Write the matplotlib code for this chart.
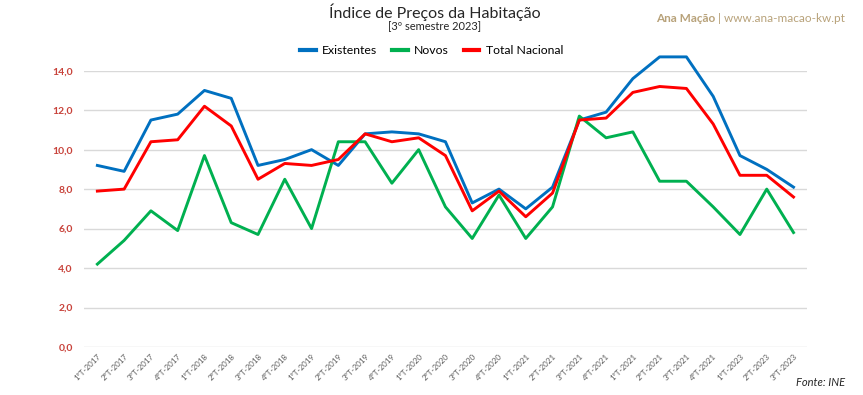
import numpy as np
import matplotlib
matplotlib.use("Agg")
import matplotlib.pyplot as plt

# quarters as labelled in the source chart (the 2022 labels read "2021" there)
quarters = ["1ºT-2017", "2ºT-2017", "3ºT-2017", "4ºT-2017",
            "1ºT-2018", "2ºT-2018", "3ºT-2018", "4ºT-2018",
            "1ºT-2019", "2ºT-2019", "3ºT-2019", "4ºT-2019",
            "1ºT-2020", "2ºT-2020", "3ºT-2020", "4ºT-2020",
            "1ºT-2021", "2ºT-2021", "3ºT-2021", "4ºT-2021",
            "1ºT-2021", "2ºT-2021", "3ºT-2021", "4ºT-2021",
            "1ºT-2023", "2ºT-2023", "3ºT-2023"]

existentes = [9.2, 8.9, 11.5, 11.8, 13.0, 12.6, 9.2, 9.5, 10.0, 9.2, 10.8, 10.9, 10.8, 10.4,
              7.3, 8.0, 7.0, 8.1, 11.5, 11.9, 13.6, 14.7, 14.7, 12.7, 9.7, 9.0, 8.1]
novos = [4.2, 5.4, 6.9, 5.9, 9.7, 6.3, 5.7, 8.5, 6.0, 10.4, 10.4, 8.3, 10.0, 7.1,
         5.5, 7.7, 5.5, 7.1, 11.7, 10.6, 10.9, 8.4, 8.4, 7.1, 5.7, 8.0, 5.8]
total = [7.9, 8.0, 10.4, 10.5, 12.2, 11.2, 8.5, 9.3, 9.2, 9.5, 10.8, 10.4, 10.6, 9.7,
         6.9, 7.9, 6.6, 7.8, 11.5, 11.6, 12.9, 13.2, 13.1, 11.3, 8.7, 8.7, 7.6]

yticks = [0, 2, 4, 6, 8, 10, 12, 14]

plt.rcParams['font.family'] = ['Lato', 'DejaVu Sans']

fig = plt.figure(figsize=(8.63, 3.95), dpi=100)
ax = fig.add_axes([0.0973, 0.1215, 0.8377, 0.6995])

x = np.arange(len(quarters))
ax.plot(x, existentes, color="#0070C0", lw=2.1, label="Existentes", clip_on=False)
ax.plot(x, novos, color="#00B050", lw=2.1, label="Novos", clip_on=False)
ax.plot(x, total, color="#FF0000", lw=2.1, label="Total Nacional", clip_on=False)

ax.set_xlim(-0.5, len(quarters) - 0.5)
ax.set_ylim(0, 14)
ax.set_yticks(yticks)
ax.set_yticklabels([f"{v:.1f}".replace(".", ",") for v in yticks],
                   color="#C8423A", fontsize=7.5, fontweight="bold")
ax.set_xticks(x)
ax.set_xticklabels(quarters, rotation=45, ha="right", rotation_mode="anchor",
                   fontsize=5.8, color="#595959")
ax.tick_params(axis="both", length=0)
ax.tick_params(axis="y", pad=8)
ax.tick_params(axis="x", pad=4)
ax.grid(axis="y", color="#D9D9D9", lw=1)
ax.set_axisbelow(True)
for s in ax.spines.values():
    s.set_visible(False)

leg = fig.legend(loc="center", bbox_to_anchor=(0.5, 1 - 51 / 395), ncol=3, frameon=False,
                 fontsize=8.8, handlelength=1.3, handletextpad=0.5, columnspacing=1.2)
for h in leg.get_lines():
    h.set_linewidth(3)

fig.text(0.504, 1 - 12 / 395, "Índice de Preços da Habitação", ha="center", va="center",
         fontsize=11.5, color="#262626")
fig.text(0.504, 1 - 27 / 395, "[3º semestre 2023]", ha="center", va="center",
         fontsize=8, color="#262626")

# signature: bold name followed by the site, right-aligned at the figure edge
site = fig.text(845 / 863, 1 - 18 / 395, " | www.ana-macao-kw.pt", ha="right", va="center",
                fontsize=8.5, color="#B8A27A")
ax.annotate("Ana Mação", xy=(0, 0.5), xycoords=site, ha="right", va="center",
            fontsize=8.5, fontweight="bold", color="#B8A27A", annotation_clip=False)

fig.text(0.979, 1 - 382 / 395, "Fonte: INE", ha="right", va="center",
         fontsize=8, style="italic", color="#262626")

fig.savefig("out.png", dpi=100)
